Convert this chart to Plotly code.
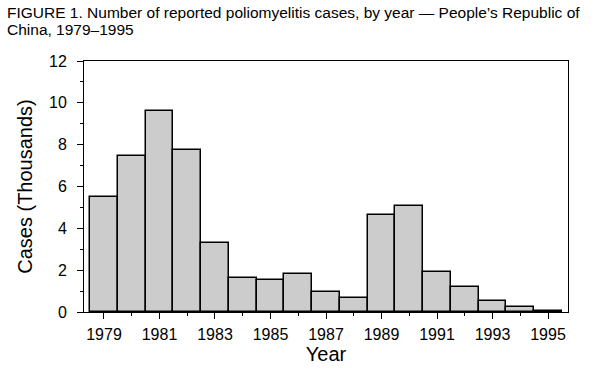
import plotly.graph_objects as go

years = list(range(1979, 1996))
cases_thousands = [5.5, 7.47, 9.63, 7.76, 3.3, 1.62, 1.52, 1.81, 0.95, 0.67,
                   4.64, 5.07, 1.9, 1.19, 0.51, 0.23, 0.04]
x_tick_vals = list(range(1979, 1996, 2))
x_tick_text = [str(v) for v in x_tick_vals]
y_tick_vals = list(range(0, 13, 2))

title_line1 = "FIGURE 1. Number of reported poliomyelitis cases, by year \u2014 People\u2019s Republic of"
title_line2 = "China, 1979\u20131995"

fig = go.Figure()
fig.add_trace(go.Bar(
    x=years, y=cases_thousands, width=1.0,
    marker=dict(color="white",
                line=dict(color="black", width=1.5),
                pattern=dict(shape=".", size=2, solidity=0.45,
                             fgcolor="black", bgcolor="white")),
    showlegend=False,
))

title_font = dict(family="Liberation Sans, Arial, sans-serif", size=15.5, color="black")
PW = 609 - 84 - 41
PH = 382 - 61 - 70
for i, line in enumerate([title_line1, title_line2]):
    top_px = 2 + 17 * i
    fig.add_annotation(text=line, showarrow=False, xref="paper", yref="paper",
                       x=-79 / PW, xanchor="left",
                       y=1 + (61 - top_px) / PH, yanchor="top",
                       font=title_font, align="left")

fig.update_layout(
    width=609, height=382,
    margin=dict(l=84, r=41, t=61, b=70),
    paper_bgcolor="white", plot_bgcolor="white",
    bargap=0,
    font=dict(family="Liberation Sans, Arial, sans-serif", color="black"),
)
fig.update_xaxes(
    range=[1978.28, 1995.72], automargin=False,
    tickvals=x_tick_vals, ticktext=x_tick_text,
    ticks="outside", ticklen=6, tickwidth=1, tickcolor="black",
    minor=dict(tickvals=list(range(1980, 1996, 2)), ticks="outside", ticklen=3,
               tickwidth=1, tickcolor="black"),
    showline=True, linecolor="black", linewidth=1, mirror=True,
    showgrid=False, zeroline=False,
    tickfont=dict(size=16), ticklabelstandoff=2,
    title=dict(text="Year", font=dict(size=20), standoff=0),
)
fig.update_yaxes(
    range=[0, 12], automargin=False,
    tickvals=y_tick_vals,
    ticks="outside", ticklen=6, tickwidth=1, tickcolor="black",
    minor=dict(tickvals=list(range(1, 12, 2)), ticks="outside", ticklen=3,
               tickwidth=1, tickcolor="black"),
    showline=True, linecolor="black", linewidth=1, mirror=True,
    showgrid=False, zeroline=False,
    tickfont=dict(size=16), ticklabelstandoff=7,
    title=dict(text="Cases (Thousands)", font=dict(size=20), standoff=11),
)

fig.write_html("out.html", config={"displayModeBar": False},
               post_script="document.body.style.margin='0';")
